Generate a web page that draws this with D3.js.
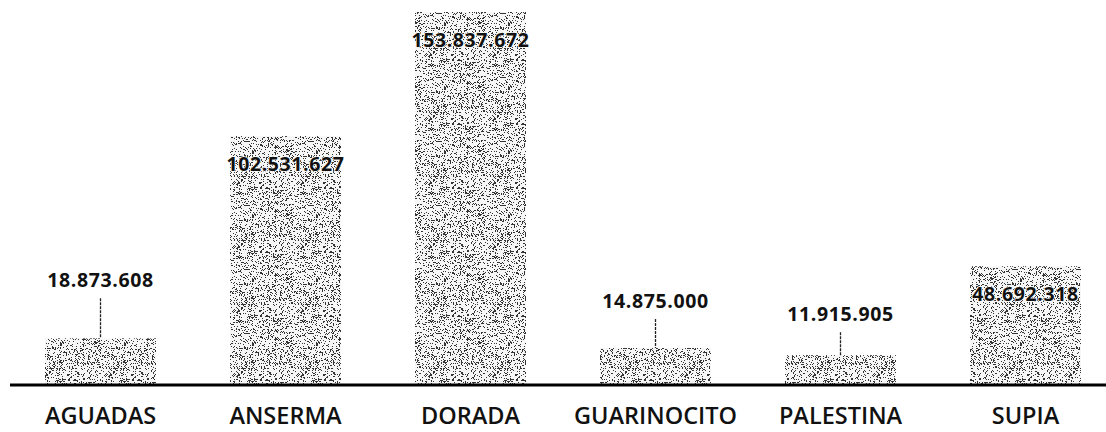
<!DOCTYPE html>
<html>
<head>
<meta charset="utf-8">
<script src="https://cdn.jsdelivr.net/npm/d3@7"></script>
<style>
  html, body { margin: 0; padding: 0; background: #fff; }
  svg { display: block; }
</style>
</head>
<body>
<svg id="chart" width="1106" height="432"></svg>
<script>
// ---- data ----
const categories = ["AGUADAS", "ANSERMA", "DORADA", "GUARINOCITO", "PALESTINA", "SUPIA"];
const values = [18873608, 102531627, 153837672, 14875000, 11915905, 48692318];
const valueLabels = ["18.873.608", "102.531.627", "153.837.672", "14.875.000", "11.915.905", "48.692.318"];

// ---- layout (not data) ----
const calloutRise = [51, 0, 0, 40, 34, 0]; // distance label baseline sits above bar top (0 = inside bar)

const svg = d3.select("#chart");

const x = d3.scaleBand().domain(categories).range([8, 1118]).paddingInner(0.4).paddingOuter(0.2);
const y = d3.scaleLinear().domain([0, 153837672]).range([384, 12]);

// stipple pattern (decorative texture, deterministic)
const defs = svg.append("defs");
const pat = defs.append("pattern").attr("id", "stipple").attr("patternUnits", "userSpaceOnUse")
  .attr("width", 64).attr("height", 64);
pat.append("rect").attr("width", 64).attr("height", 64).attr("fill", "#f6f6f6");
let seed = 12345;
function rnd() { seed = (seed * 1103515245 + 12345) % 2147483648; return seed / 2147483648; }
const dots = [];
for (let i = 0; i < 64; i++) for (let j = 0; j < 64; j++) {
  if (rnd() < 0.22) dots.push([i, j]);
}
pat.selectAll("rect.d").data(dots).join("rect").attr("class", "d")
  .attr("x", d => d[0]).attr("y", d => d[1]).attr("width", 1).attr("height", 1)
  .attr("fill", "#333");

// bars
svg.append("g").selectAll("rect").data(categories).join("rect")
  .attr("x", d => x(d))
  .attr("y", (d, i) => y(values[i]))
  .attr("width", x.bandwidth())
  .attr("height", (d, i) => y(0) - y(values[i]))
  .attr("fill", "url(#stipple)");

// leader lines
svg.append("g").selectAll("line").data(categories.filter((d, i) => calloutRise[i] > 0)).join("line")
  .attr("x1", d => x(d) + x.bandwidth() / 2)
  .attr("x2", d => x(d) + x.bandwidth() / 2)
  .attr("y1", d => { const i = categories.indexOf(d); return y(values[i]) - calloutRise[i] + 11; })
  .attr("y2", d => y(values[categories.indexOf(d)]))
  .attr("stroke", "#222").attr("stroke-width", 1.3).attr("stroke-dasharray", "3,1");

// value labels
svg.append("g").selectAll("text").data(categories).join("text")
  .attr("x", d => x(d) + x.bandwidth() / 2)
  .attr("y", (d, i) => calloutRise[i] > 0 ? y(values[i]) - calloutRise[i] : y(values[i]) + 35)
  .attr("text-anchor", "middle")
  .attr("font-family", "'Open Sans', sans-serif")
  .attr("font-weight", 700)
  .attr("font-size", 19.5)
  .attr("letter-spacing", 0.6)
  .attr("fill", "#111")
  .attr("stroke", "#fff").attr("stroke-width", 1.5).attr("paint-order", "stroke")
  .text((d, i) => valueLabels[i]);

// baseline axis
const axis = d3.axisBottom(x).tickSize(0).tickPadding(22);
const gx = svg.append("g").attr("transform", "translate(0,385)").call(axis);
gx.select(".domain").attr("d", "M10,0H1106").attr("stroke", "#000").attr("stroke-width", 3);
gx.selectAll("text")
  .attr("font-family", "'Open Sans', sans-serif")
  .attr("font-weight", 600)
  .attr("font-size", 23.5)
  .attr("fill", "#111")
  .attr("dy", "0.71em");
</script>
</body>
</html>
